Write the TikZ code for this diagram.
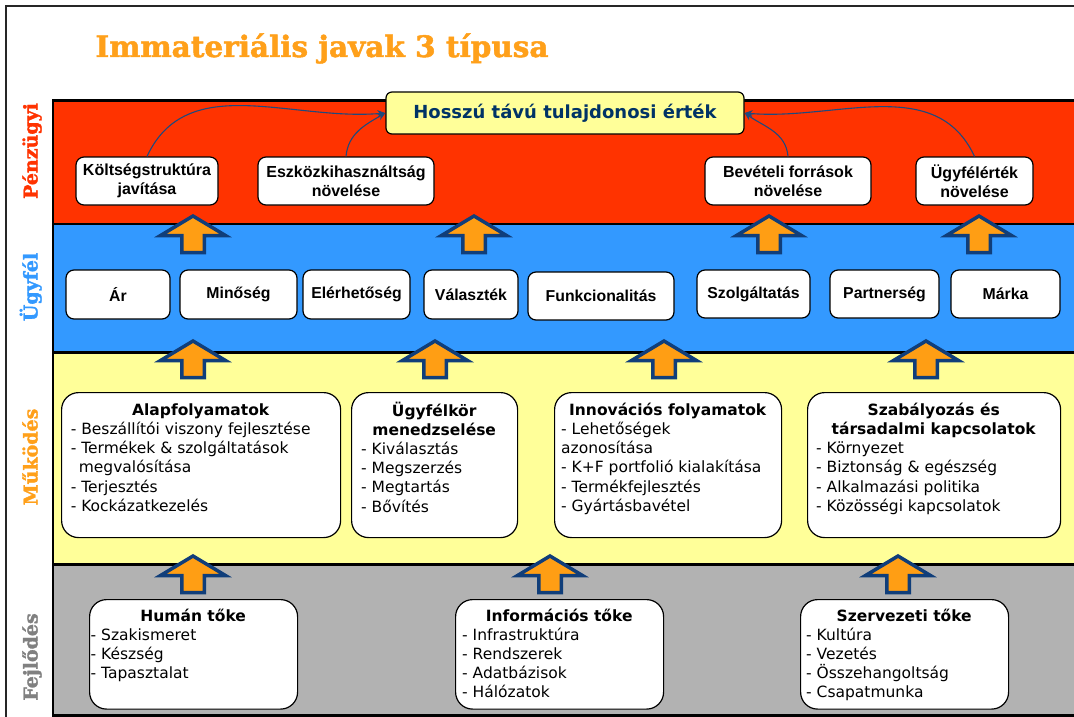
\documentclass[tikz,border=0pt]{standalone}
\usepackage{fontspec}
\setmainfont{DejaVu Sans}
\newfontfamily\arialf{Liberation Sans}
\newfontfamily\slabf{DejaVu Serif}[BoldFont={DejaVu Serif Bold}, BoldFeatures={FakeBold=1.6}]
\usetikzlibrary{arrows.meta}
\definecolor{redband}{RGB}{255,51,0}
\definecolor{blueband}{RGB}{51,153,255}
\definecolor{yellowband}{RGB}{255,255,153}
\definecolor{grayband}{RGB}{178,178,178}
\definecolor{arrblue}{RGB}{16,62,122}
\definecolor{arrorange}{RGB}{255,158,20}
\definecolor{titleor}{RGB}{255,160,26}
\definecolor{linkblue}{RGB}{31,73,125}
\definecolor{hosszblue}{RGB}{0,51,102}
\definecolor{labgray}{RGB}{128,128,128}
\begin{document}
\begin{tikzpicture}[x=1pt,y=1pt,
  band/.style={draw=black, line width=2.6pt},
  fin/.style={draw=black, fill=white, rounded corners=8pt, line width=1.2pt, align=center, inner sep=0pt,
    font=\arialf\bfseries\fontsize{16}{19.5}\selectfont},
  cust/.style={draw=black, fill=white, rounded corners=8pt, line width=1.2pt, inner sep=0pt,
    font=\arialf\bfseries\fontsize{15.8}{19}\selectfont},
  proc/.style={draw=black, fill=white, rounded corners=17pt, line width=1.2pt, inner sep=0pt, anchor=north west},
  txt/.style={inner sep=0pt, align=left, anchor=north west, font=\fontsize{15.5}{19.2}\selectfont},
  side/.style={rotate=90, anchor=base, font=\slabf\bfseries\fontsize{19}{22}\selectfont},
  link/.style={draw=linkblue, line width=1.1pt, -{Stealth[length=8pt,width=7pt]}},
  arrowst/.style={draw=arrblue, fill=arrorange, line width=3.5pt, line join=miter},
  pics/uparr/.style={code={\draw[arrowst] (0,0) -- (32.5,-19.5) -- (11.25,-19.5) -- (11.25,-36.5)
      -- (-11.25,-36.5) -- (-11.25,-19.5) -- (-32.5,-19.5) -- cycle;}}
]
\useasboundingbox (0,0) rectangle (1074,-717);
\clip (0,0) rectangle (1074,-717);
\fill[white] (0,0) rectangle (1074,-717);
\draw[line width=2.4pt, black!85] (6.2,-6.2) rectangle (1095,-740);

% title
\node[font=\slabf\bfseries\fontsize{29.5}{32}\selectfont, text=titleor, anchor=base] (title) at (322,-57) {Immateriális javak 3 típusa};

% bands
\draw[band, fill=redband] (52.8,-100.5) rectangle (1100,-224);
\draw[band, fill=blueband] (52.8,-224) rectangle (1100,-352.5);
\draw[band, fill=yellowband] (52.8,-352.5) rectangle (1100,-564.5);
\draw[band, fill=grayband] (52.8,-564.5) rectangle (1100,-715.5);

% side labels
\node[side, text=redband] (lpenz) at (37.5,-151) {Pénzügyi};
\node[side, text=blueband] (lugyf) at (37.5,-287) {Ügyfél};
\node[side, text=titleor] (lmuk) at (37.5,-457) {Működés};
\node[side, text=labgray] (lfejl) at (37.5,-657) {Fejlődés};

% block arrows
\pic at (193,-216) {uparr};
\pic at (474,-216) {uparr};
\pic at (769,-216) {uparr};
\pic at (979,-216) {uparr};
\pic at (193,-341) {uparr};
\pic at (435,-341) {uparr};
\pic at (664,-341) {uparr};
\pic at (926,-341) {uparr};
\pic at (193,-556) {uparr};
\pic at (550,-556) {uparr};
\pic at (898,-556) {uparr};

% financial perspective
\node[draw=black, fill=yellowband, rounded corners=6pt, line width=1.2pt, minimum width=358, minimum height=42,
  inner sep=0pt, text=hosszblue, font=\bfseries\fontsize{18}{21}\selectfont] (hossz) at (565,-113) {Hosszú távú tulajdonosi érték};
\node[fin, minimum width=142, minimum height=48] (kolt) at (147,-181) {Költségstruktúra\\javítása};
\node[fin, minimum width=176, minimum height=48] (eszk) at (346,-181) {Eszközkihasználtság\\növelése};
\node[fin, minimum width=166, minimum height=48] (bev) at (788,-181) {Bevételi források\\növelése};
\node[fin, minimum width=117, minimum height=48] (ugyert) at (974.5,-181) {Ügyfélérték\\növelése};
\draw[link] (kolt.north) to[out=65,in=185] (hossz.west);
\draw[link] (eszk.north) to[out=85,in=210] (hossz.west);
\draw[link] (bev.north) to[out=95,in=-35] (hossz.east);
\draw[link] (ugyert.north) to[out=115,in=-5] (hossz.east);

% customer perspective
\node[cust, minimum width=104, minimum height=49] (ar) at (118,-294.5) {Ár};
\node[cust, minimum width=117, minimum height=49] (min) at (238.5,-294.5) {Minőség};
\node[cust, minimum width=107, minimum height=49] (eler) at (356.5,-294.5) {Elérhetőség};
\node[cust, minimum width=94, minimum height=49] (valt) at (471,-294.5) {Választék};
\node[cust, minimum width=146, minimum height=48] (funk) at (601,-296) {Funkcionalitás};
\node[cust, minimum width=113, minimum height=48] (szolg) at (753.5,-294) {Szolgáltatás};
\node[cust, minimum width=109, minimum height=48] (partn) at (884.5,-294) {Partnerség};
\node[cust, minimum width=109, minimum height=48] (marka) at (1005.5,-294) {Márka};

% internal processes
\node[proc, minimum width=279, minimum height=145] (alap) at (61,-392) {};
\node[txt] (alapt) at ([xshift=9.6, yshift=-9.6]alap.north west)
  {\strut\makebox[259.8pt]{\bfseries Alapfolyamatok}\\
   - Beszállítói viszony fejlesztése\\
   - Termékek \& szolgáltatások\\
   \hspace*{8pt}megvalósítása\\
   - Terjesztés\\
   - Kockázatkezelés};
\node[proc, minimum width=166, minimum height=145] (ugyk) at (351,-392) {};
\node[txt] (ugykt) at ([xshift=10, yshift=-9.6]ugyk.north west)
  {\strut\makebox[146pt]{\bfseries Ügyfélkör}\\
   \makebox[146pt]{\bfseries menedzselése}\\
   - Kiválasztás\\
   - Megszerzés\\
   - Megtartás\\
   - Bővítés};
\node[proc, minimum width=227, minimum height=145] (innov) at (554,-392) {};
\node[txt] (innovt) at ([xshift=7, yshift=-9.6]innov.north west)
  {\strut\makebox[213pt]{\bfseries Innovációs folyamatok}\\
   - Lehetőségek\\
   azonosítása\\
   - K+F portfolió kialakítása\\
   - Termékfejlesztés\\
   - Gyártásbavétel};
\node[proc, minimum width=253, minimum height=145] (szab) at (807,-392) {};
\node[txt] (szabt) at ([xshift=9, yshift=-9.6]szab.north west)
  {\strut\makebox[235pt]{\bfseries Szabályozás és}\\
   \makebox[235pt]{\bfseries társadalmi kapcsolatok}\\
   - Környezet\\
   - Biztonság \& egészség\\
   - Alkalmazási politika\\
   - Közösségi kapcsolatok};

% learning and growth
\node[proc, minimum width=208, minimum height=109.5] (human) at (89,-599) {};
\node[txt, font=\fontsize{15.5}{19}\selectfont] (humant) at ([xshift=1.5, yshift=-9.4]human.north west)
  {\strut\makebox[205pt]{\bfseries Humán tőke}\\
   - Szakismeret\\
   - Készség\\
   - Tapasztalat};
\node[proc, minimum width=208, minimum height=109.5] (info) at (455,-599) {};
\node[txt, font=\fontsize{15.5}{19}\selectfont] (infot) at ([xshift=7, yshift=-9.4]info.north west)
  {\strut\makebox[194pt]{\bfseries Információs tőke}\\
   - Infrastruktúra\\
   - Rendszerek\\
   - Adatbázisok\\
   - Hálózatok};
\node[proc, minimum width=208, minimum height=109.5] (szerv) at (800,-599) {};
\node[txt, font=\fontsize{15.5}{19}\selectfont] (szervt) at ([xshift=6, yshift=-9.4]szerv.north west)
  {\strut\makebox[196pt]{\bfseries Szervezeti tőke}\\
   - Kultúra\\
   - Vezetés\\
   - Összehangoltság\\
   - Csapatmunka};
\end{tikzpicture}
\end{document}
